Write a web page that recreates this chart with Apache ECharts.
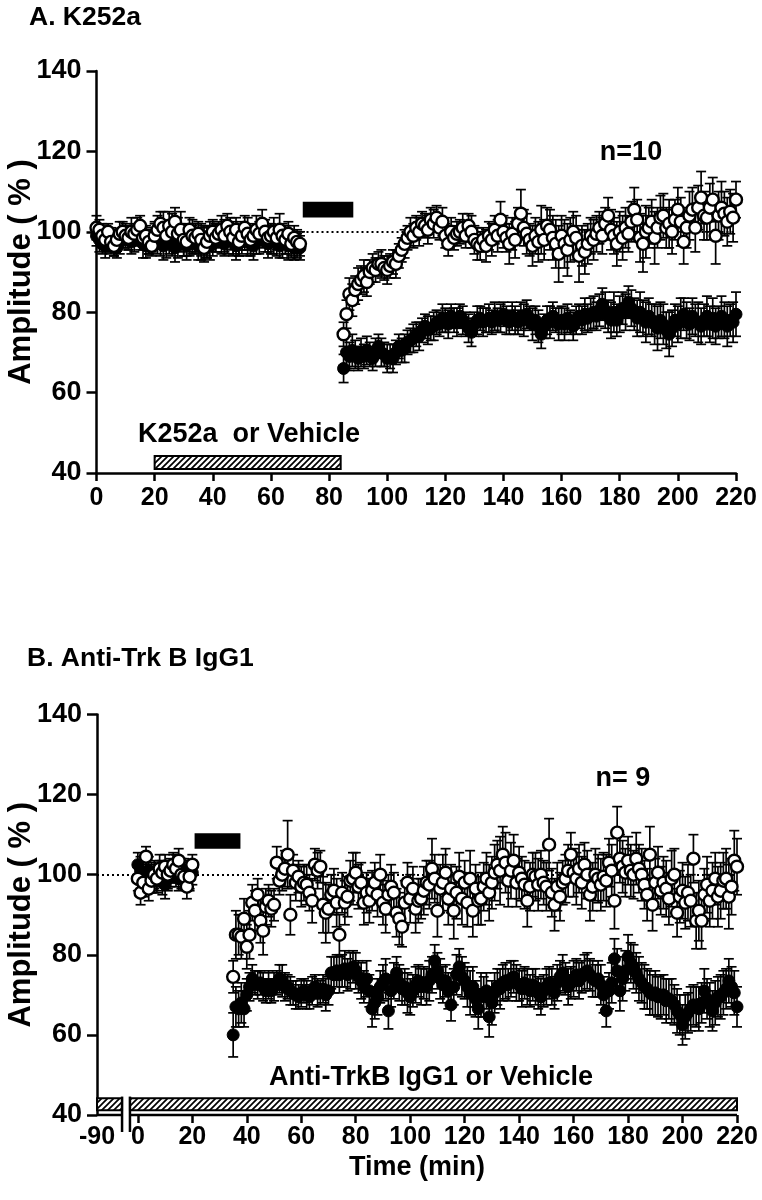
<!DOCTYPE html>
<html>
<head>
<meta charset="utf-8">
<script src="https://cdn.jsdelivr.net/npm/echarts@6/dist/echarts.min.js"></script>
<style>html,body{margin:0;padding:0;background:#fff}#c{width:762px;height:1200px}</style>
</head>
<body>
<div id="c"></div>
<script>
// ---------------- DATA ----------------
const X_TICKS = [0, 20, 40, 60, 80, 100, 120, 140, 160, 180, 200, 220];
const Y_TICKS = [40, 60, 80, 100, 120, 140];
const B_PRE_LABEL = '-90';          // label of the pre-break segment in panel B

// Panel A : K252a (filled) vs vehicle (open); 1 sample per minute
const A_BASE_START = 0;   // minutes 0..70
const A_POST_START = 85;  // minutes 85..220
const A_OPEN_BASE = [
101,100.5,99,98,100,97.5,96.5,98,99.5,100,
99,98.5,100,99.5,100.5,101.5,98.5,99,97.5,96.5,
99,100.5,102,101,99,101.5,100,102.5,99.5,100.5,
98,97.5,100.5,99,98.5,99.5,98,96,97.5,99,
100,98.5,99.5,100.5,99,101.5,100,98.5,100.5,97.5,
99,101,99.5,98,99,100.5,99.5,102,100,98.5,
99,100,98.5,100.5,99,98,99.5,97,98.5,97.5,
97];
const A_OPEN_BASE_ERR = [
3,2.5,3,2.5,2,3,2.5,2,3,2.5,
2,3,3.5,2.5,3,2.5,3,2.5,3,2.5,
3,3.5,3,4,3,3.5,4.5,3.5,4,4.5,
4,3.5,3,4,3.5,3,4,3.5,4,3.5,
3,3.5,3,3.5,4,3,3.5,4,3,3.5,
3.5,3,4,3.5,3,3.5,3,3.5,3,3.5,
3,3.5,3,4,3,3.5,3,3.5,3,3,
3];
const A_FILLED_BASE = [
99,98,97,96.5,97.5,98,97,96,97.5,98.5,
99,98,97.5,98,99,98.5,97,96.5,97,98,
99.5,98,97,96.5,97.5,98,97,96,97.5,98.5,
97,96.5,97,98,97.5,96.5,97,98,97.5,96.5,
97,98.5,99,98,97,98,98.5,97.5,96.5,97,
98,98.5,97.5,97,96.5,97.5,98,99,98,97,
97.5,98,97,96.5,97,97.5,96.5,97,96,96.5,
96];
const A_FILLED_BASE_ERR = [
2.5,3,2.5,3,2.5,3,3,2.5,3,2.5,
3,2.5,3,3,2.5,3,3.5,3,2.5,3,
3,3.5,3,3.5,4,3.5,3,3.5,4,3.5,
3,3.5,3,3.5,3,3.5,4,3.5,4,3.5,
3,3.5,3,3.5,3,3.5,3,3.5,3.5,3,
3.5,3,3.5,3,3.5,3,3.5,3,3,3.5,
3,3.5,3,3,3.5,3,3.5,3,3,3,
3];
const A_OPEN_POST = [
74.5,79.5,84.5,83,85.5,87,88,89,87.5,90,
91,90.5,92,92,91,90.5,91.5,92.5,92,94,
95.5,97,98.5,100,99,101,100,102,101.5,100.5,
103,102,103.5,101,102.5,99,97,100,98.5,99.5,
100,101,99,101.5,100,98,97,96.5,98,96.5,
99,98,100.5,99,103,100,98.5,97,99.5,98,
102,104.5,101,99.5,98,96.5,99,97.5,100.5,98,
101.5,100.5,98.5,97,94.5,99,97,95.5,98,100,
98.5,94,96.5,95,97,99,98,99.5,101,99,
102,104,100.5,99,97,100,98.5,101,99.5,102.5,
105.5,103,98.5,97,100,101,102.5,98.5,101,103.5,
104,101,102,100,103,105.5,102.5,97.5,101,104,
105.5,101,106,108.5,104,103.5,106,108,99,104,
106,104.5,102.5,105,103.5,108];
const A_OPEN_POST_ERR = [
3,3.5,4,4,3.5,4,3.5,4,3.5,3,
3.5,3,3,3.5,3,3.5,3,3,3.5,3,
3,3.5,3,3.5,3,3,3.5,3,3,3.5,
3,3.5,3,3,3.5,3,3,3.5,3,3,
3,3.5,3,3,4,3.5,4,3.5,3,4,
3.5,4,3.5,4,4.5,4,3.5,5,4,4.5,
4,6,4.5,5,4,5,4.5,5,6,5,
4.5,5,5.5,6,7,5,6,6.5,5.5,5,
5.5,6.5,5,5.5,5,4.5,5,4.5,4,4.5,
4,4.5,5,4.5,5.5,5,5.5,5,4.5,5,
5.5,5,6,7,6.5,5,5.5,6.5,5,5.5,
5.5,5,6,5.5,5,5.5,6,5.5,5,6,
5.5,6,5.5,6.5,6,5.5,6,5.5,7,6,
6.5,5.5,6,5.5,6,4.5];
const A_FILLED_POST = [
66,70,69,70.5,69.5,68.5,70,69,70.5,69.5,
68.5,70,71.5,70,69.5,68.5,69,68.5,70,71.5,
70.5,71,72.5,73,73.5,74.5,74,75.5,76.5,75.5,
76,76.5,77.5,77,78.5,78,77,79,78,77.5,
79,78,77,76,75,77,78,78.5,77.5,78,
78.5,77.5,79,78,78.5,79.5,78,77.5,79,78,
77.5,79,78,79.5,78.5,77,78,76.5,74.5,76.5,
78,77.5,79,78,77,78,77,78.5,77.5,76.5,
78,79,78,79.5,78.5,79.5,80,79,80.5,82,
80.5,79,78,80,78,79.5,81,80,82.5,81,
79.5,78.5,80,78.5,77.5,79,78,77,76,78,
77,75.5,74.5,76,78,77,78.5,79.5,78,77,
79,78,77.5,76.5,78,79,77,78.5,76.5,77.5,
79,78,76.5,78,77.5,79.5];
const A_FILLED_POST_ERR = [
3.5,4,3.5,4,3.5,3,3.5,3,3.5,3,
3,3.5,3,3.5,3,3.5,3,3.5,3,3,
3,3.5,3,3,3.5,3,3.5,3,3,3.5,
3,3.5,3,3,3.5,3,3.5,3,3,3.5,
3,3.5,3,3.5,3.5,3,3.5,3,3.5,3,
3.5,3,3.5,3,3.5,3,3.5,3,3.5,3.5,
3,3.5,4,3.5,3,4,3.5,4,3.5,3,
3.5,4,3.5,3,4,3.5,4,3.5,3,3.5,
3.5,3,3.5,4,3.5,4,4,3.5,4,4,
4.5,4,4.5,5,4,4.5,4,4.5,4,4.5,
4,4.5,5,4.5,5,4.5,4,5,5.5,4.5,
5,4.5,5.5,4.5,4,4.5,5,4,4.5,4,
4.5,4,5,4.5,4,5,4.5,5,4.5,4,
5,4.5,5,4,5,5.5];

// Panel B : anti-TrkB IgG1 (filled) vs vehicle (open)
const B_BASE_START = 0;   // minutes 0..20
const B_POST_START = 35;  // minutes 35..220
const B_OPEN_BASE = [99,95.5,98,104.5,96.5,98.5,100,99,101.5,100.5,102,100,101,102.5,101.5,103.5,100,99.5,97,99.5,102.5];
const B_OPEN_BASE_ERR = [3,3,3.5,2.5,3,3,3.5,3,3.5,3,3,3.5,3,3,3.5,3,3.5,3,3,3.5,2.5];
const B_FILLED_BASE = [102.5,101,100,99.5,101,100,98.5,99,100.5,98,97.5,99,100,101.5,100,99,100.5,101,99.5,100,100.5];
const B_FILLED_BASE_ERR = [3,3.5,3,3,3.5,3,3,3.5,3,3,3.5,3,3,3.5,3,3,3.5,3,3,3.5,3];
const B_OPEN_POST = [
74.5,85,85,84.5,89,82,85,93,91,95,
88.5,86,92,93.5,91.5,92.5,103,98.5,100,101.5,
105,90,101,98,99.5,97,98,97.5,95.5,93.5,
102.5,101,102,92.5,90.5,91.5,95,96,93,85,
95.5,93,94.5,98.5,99,100.5,97,98,93,95.5,
93.5,96,98,95,100,93,91.5,95,97,95.5,
90.5,89,87,93,98,94,96.5,91.5,93.5,94,
96,98,97.5,101.5,99,91,96.5,98,100.5,94,
96.5,91,95.5,99.5,94,98,93,99,91,96.5,
93.5,94,97,99,95.5,98,100.5,102.5,101,105,
103,98.5,101,103.5,98,100.5,99,97.5,93.5,97,
100,99.5,97.5,100,98,97,107.5,95.5,92.5,97,
94.5,98,99,101,105,100.5,99,101.5,98,102.5,
100,95,97,100,99,97.5,99.5,98.5,103,101,
93.5,110.5,104,102,100.5,103.5,101,100,104,101.5,
100,97.5,95,105,92.5,98,100.5,96,98,96.5,
94,99,100,90.5,94.5,96,93,95.5,93.5,104,
88.5,91,88.5,95,97.5,93.5,96,99,94.5,96,
98.5,99,94.5,97,103.5,102];
const B_OPEN_POST_ERR = [
4,6,5,5.5,5,5.5,6,4.5,5,4,
5.5,6,4.5,4,4.5,4,4,3.5,4,4.5,
8.5,5,4,4.5,4,5,4.5,5,4.5,5.5,
4,4.5,4,7,7.5,6,5,5.5,6,5,
5,5.5,5,5,6.5,5,5.5,5,5.5,5,
5.5,5,5,5.5,5,5.5,6,5,5.5,5,
6,6.5,5,5.5,5,6,5.5,6,5.5,5,
6,5.5,6,7.5,6,6.5,6,7,6,6.5,
6,7,6.5,6,6.5,5.5,6,7,6.5,6,
6,6.5,6,6.5,7,6.5,7,6,8.5,7,
7.5,6.5,7,6.5,6,6.5,5.5,6,6.5,6,
5.5,6,6.5,6,5.5,6,6.5,6,6.5,6,
6,5.5,6,6.5,5.5,6,6.5,6,6.5,5.5,
6,6.5,6,6.5,6,6.5,6,6.5,6,6.5,
7,6.5,6,6.5,6,6,6.5,6,6.5,6,
6.5,6,6.5,7,6.5,6,6.5,6,6.5,7,
6.5,7,6.5,6,6.5,7,6.5,7,6.5,6,
7,7.5,7,6.5,7,6.5,7,6.5,7.5,7,
7,7.5,8,7,7.5,7];
const B_FILLED_POST = [
60,67,66.5,68,66.5,70,72,74,73,72.5,
73,72,71,72.5,71,72,73,74,73.5,72,
72,71,70.5,70,69.5,70.5,71,70,69.5,71,
72,70.5,70.5,71.5,70,71,75.5,75,76,75,
76,76.5,75,76,77,76,74.5,73.5,72,74,
71,66.5,68,69.5,72,73,74,66,71,73.5,
75.5,73,71.5,72,70.5,69.5,71,72.5,73.5,72,
73,72,73.5,75,78.5,76,74,72.5,73.5,71,
67.5,72,75,77,74.5,73.5,72,70.5,72,69,
66.5,70,69.5,71,64.5,68,70.5,72,71.5,73,
73.5,72.5,74,74.5,73,72.5,71.5,73,72,71,
72.5,72,70.5,69.5,71,72,73,72,70.5,73,
74.5,75.5,74,72,73,74,75,73.5,74.5,75.5,
76,75,74,73.5,74,72.5,70,66,71,73,
79,76,71,74,76,79.5,78,77,75.5,74,
73,72,71.5,70.5,70,70.5,69.5,69.5,70,68.5,
69,68.5,67.5,66,65,62.5,64.5,65.5,66.5,67.5,
67,66.5,68,71,69,67.5,66,68,69.5,69.5,
70.5,71.5,73.5,72,70.5,67];
const B_FILLED_POST_ERR = [
5.5,5,4.5,5,4.5,4,3.5,3.5,3,3.5,
3,3.5,3,3.5,3,3.5,3,3.5,4,3.5,
3,3.5,3,3.5,3,3.5,3,3.5,3,3.5,
3,3.5,3,3.5,4,3.5,4,4.5,4,4.5,
4,4.5,4,4.5,4,4.5,4,4.5,4,4.5,
4,4.5,4,4.5,4,4.5,5,4.5,4,4.5,
4,4.5,4,4.5,5,4.5,4,4.5,4,4.5,
4,4.5,5,4.5,4,4.5,5,4.5,4,4.5,
4,4.5,5,4.5,5,4.5,5,5.5,5,4.5,
5,5.5,5,4.5,5,5.5,5,4.5,5,4.5,
4.5,4,4.5,4,4.5,4,4.5,4,4.5,4,
4,4.5,4,4.5,4,4.5,4,4.5,4,4.5,
4,4.5,4,4.5,4,4.5,4,4.5,4,4.5,
4.5,4,4.5,4,4.5,5,4.5,4,4.5,5,
5,5.5,5,5.5,5,5.5,5,5.5,5,5.5,
5,5.5,5,5.5,5,5.5,5,5.5,5,5.5,
5,5.5,5,5.5,5,5,5.5,5,5.5,5,
5,5.5,5,5.5,5,5.5,5,5.5,5,5.5,
5.5,5,5.5,5,5.5,5];

// Annotation extents (minutes, %)
const A_DRUG_BAR = [20, 84, 41, 44.2];       // hatched: K252a or vehicle
const A_TETANUS_BAR = [71.3, 88, 103.8, 107.2];
const B_DRUG_BARS = [[-15, -5.8, 41.2, 44.2], [-2.9, 220.5, 41.2, 44.2]];
const B_TETANUS_BAR = [21.2, 37.3, 106.7, 110.1];
const B_AXIS_SEGMENTS = [[-15, -5.8], [-2.9, 220]];
const BASELINE = 100;

// ---------------- RENDER ----------------
const FONT = '"Liberation Sans", Arial, Helvetica, sans-serif';
function pts(start, vals, errs) { return vals.map((v, i) => [start + i, v, errs[i]]); }

function hatchPattern() {
  const c = document.createElement('canvas');
  c.width = 6; c.height = 6;
  const g = c.getContext('2d');
  g.fillStyle = '#fff'; g.fillRect(0, 0, 6, 6);
  g.strokeStyle = '#000'; g.lineWidth = 1.7;
  g.beginPath();
  g.moveTo(-1, 7); g.lineTo(7, -1);
  g.moveTo(-1, 1); g.lineTo(1, -1);
  g.moveTo(5, 7); g.lineTo(7, 5);
  g.stroke();
  return c;
}
const HATCH = { image: hatchPattern(), repeat: 'repeat' };

function errRender(params, api) {
  const x = api.value(0), v = api.value(1), e = api.value(2);
  const t = api.coord([x, v + e]), b = api.coord([x, v - e]);
  const hw = 5, st = { stroke: '#000', lineWidth: 1.7 };
  return { type: 'group', children: [
    { type: 'line', shape: { x1: t[0], y1: t[1], x2: b[0], y2: b[1] }, style: st },
    { type: 'line', shape: { x1: t[0] - hw, y1: t[1], x2: t[0] + hw, y2: t[1] }, style: st },
    { type: 'line', shape: { x1: b[0] - hw, y1: b[1], x2: b[0] + hw, y2: b[1] }, style: st }
  ]};
}

function area(b, color) {
  return [{ xAxis: b[0], yAxis: b[2], itemStyle: { color: color, borderColor: '#000', borderWidth: 2, opacity: 1 } },
          { xAxis: b[1], yAxis: b[3] }];
}

function panelSeries(ax, openPts, filledPts, drugBars, tetBar) {
  return [
    { type: 'scatter', xAxisIndex: ax, yAxisIndex: ax, data: [], z: 1, silent: true,
      markLine: { silent: true, symbol: 'none', label: { show: false },
        lineStyle: { color: '#000', width: 2, type: [2, 3] }, data: [{ yAxis: BASELINE }] },
      markArea: { silent: true, label: { show: false },
        data: drugBars.map(b => area(b, HATCH)).concat([area(tetBar, '#000')]) } },
    { type: 'custom', xAxisIndex: ax, yAxisIndex: ax, data: filledPts, renderItem: errRender, z: 2, encode: { x: 0, y: 1 }, silent: true },
    { type: 'scatter', xAxisIndex: ax, yAxisIndex: ax, data: filledPts, z: 3, symbol: 'circle', symbolSize: 12,
      itemStyle: { color: '#000', borderColor: '#000', borderWidth: 1, opacity: 1 }, encode: { x: 0, y: 1 }, silent: true },
    { type: 'custom', xAxisIndex: ax, yAxisIndex: ax, data: openPts, renderItem: errRender, z: 4, encode: { x: 0, y: 1 }, silent: true },
    { type: 'scatter', xAxisIndex: ax, yAxisIndex: ax, data: openPts, z: 5, symbol: 'circle', symbolSize: 12,
      itemStyle: { color: '#fff', borderColor: '#000', borderWidth: 2.4, opacity: 1 }, encode: { x: 0, y: 1 }, silent: true }
  ];
}

const aOpen = pts(A_BASE_START, A_OPEN_BASE, A_OPEN_BASE_ERR).concat(pts(A_POST_START, A_OPEN_POST, A_OPEN_POST_ERR));
const aFilled = pts(A_BASE_START, A_FILLED_BASE, A_FILLED_BASE_ERR).concat(pts(A_POST_START, A_FILLED_POST, A_FILLED_POST_ERR));
const bOpen = pts(B_BASE_START, B_OPEN_BASE, B_OPEN_BASE_ERR).concat(pts(B_POST_START, B_OPEN_POST, B_OPEN_POST_ERR));
const bFilled = pts(B_BASE_START, B_FILLED_BASE, B_FILLED_BASE_ERR).concat(pts(B_POST_START, B_FILLED_POST, B_FILLED_POST_ERR));

const axisLineStyle = { color: '#000', width: 2.5 };
const yAxisCommon = {
  type: 'value', min: Y_TICKS[0], max: Y_TICKS[Y_TICKS.length - 1], interval: 20,
  axisLine: { show: true, onZero: false, lineStyle: axisLineStyle },
  axisTick: { show: true, length: 10, lineStyle: { color: '#000', width: 2.5 } },
  axisLabel: { color: '#000', fontSize: 27, fontWeight: 'bold', fontFamily: FONT, margin: 15 },
  splitLine: { show: false },
  name: 'Amplitude ( % )', nameLocation: 'middle', nameGap: 60, nameMoveOverlap: false,
  nameTextStyle: { color: '#000', fontSize: 31, fontWeight: 'bold', fontFamily: FONT }
};

const chart = echarts.init(document.getElementById('c'), null, { renderer: 'canvas', width: 762, height: 1200 });
chart.setOption({
  animation: false,
  backgroundColor: '#fff',
  grid: [
    { left: 96.5, top: 71, width: 639.5, height: 402, containLabel: false, outerBoundsMode: 'none' },
    { left: 97, top: 714.5, width: 640, height: 400.5, containLabel: false, outerBoundsMode: 'none' }
  ],
  xAxis: [
    { type: 'value', gridIndex: 0, min: 0, max: 220, interval: 20,
      axisLine: { show: true, onZero: false, lineStyle: axisLineStyle },
      axisTick: { show: true, length: 8, lineStyle: { color: '#000', width: 2.5 } },
      axisLabel: { color: '#000', fontSize: 25, fontWeight: 'bold', fontFamily: FONT, margin: 13 },
      splitLine: { show: false } },
    { type: 'value', gridIndex: 1, min: -15, max: 220,
      axisLine: { show: false, onZero: false },
      axisTick: { show: true, length: 8, customValues: X_TICKS, lineStyle: { color: '#000', width: 2.5 } },
      axisLabel: { color: '#000', fontSize: 25, fontWeight: 'bold', fontFamily: FONT, margin: 10,
        customValues: [-15].concat(X_TICKS), formatter: v => (v === -15 ? B_PRE_LABEL : String(v)) },
      splitLine: { show: false },
      name: 'Time (min)', nameLocation: 'middle', nameGap: 39, nameMoveOverlap: false,
      nameTextStyle: { color: '#000', fontSize: 27, fontWeight: 'bold', fontFamily: FONT } }
  ],
  yAxis: [
    Object.assign({ gridIndex: 0 }, yAxisCommon),
    Object.assign({ gridIndex: 1 }, yAxisCommon)
  ],
  series: panelSeries(0, aOpen, aFilled, [A_DRUG_BAR], A_TETANUS_BAR)
    .concat(panelSeries(1, bOpen, bFilled, B_DRUG_BARS, B_TETANUS_BAR))
    .concat([{
      type: 'custom', xAxisIndex: 1, yAxisIndex: 1, clip: false, silent: true, z: 6,
      data: B_AXIS_SEGMENTS.map(s => [s[0], s[1], Y_TICKS[0]]),
      encode: { x: [0, 1], y: 2 },
      renderItem: function (params, api) {
        const a = api.coord([api.value(0), api.value(2)]);
        const b = api.coord([api.value(1), api.value(2)]);
        const st = { stroke: '#000', lineWidth: 2.5 };
        const bx = params.dataIndex === 0 ? b[0] : a[0];
        const top = api.coord([0, 44.6])[1];
        return { type: 'group', children: [
          { type: 'line', shape: { x1: a[0], y1: a[1], x2: b[0], y2: b[1] }, style: st },
          { type: 'line', shape: { x1: bx, y1: top, x2: bx, y2: a[1] + 17 }, style: st }
        ]};
      }
    }]),
  graphic: [
    { type: 'text', left: 29, top: 4, style: { text: 'A. K252a', fill: '#000', fontSize: 26.5, fontWeight: 'bold', fontFamily: FONT } },
    { type: 'text', left: 27, top: 645, style: { text: 'B. Anti-Trk B IgG1', fill: '#000', fontSize: 26.5, fontWeight: 'bold', fontFamily: FONT } },
    { type: 'text', x: 631, y: 153, style: { text: 'n=10', fill: '#000', fontSize: 27, fontWeight: 'bold', fontFamily: FONT, align: 'center', verticalAlign: 'middle' } },
    { type: 'text', x: 623, y: 779, style: { text: 'n= 9', fill: '#000', fontSize: 27, fontWeight: 'bold', fontFamily: FONT, align: 'center', verticalAlign: 'middle' } },
    { type: 'text', x: 249, y: 435, style: { text: 'K252a  or Vehicle', fill: '#000', fontSize: 27, fontWeight: 'bold', fontFamily: FONT, align: 'center', verticalAlign: 'middle' } },
    { type: 'text', x: 431, y: 1078, style: { text: 'Anti-TrkB IgG1 or Vehicle', fill: '#000', fontSize: 27, fontWeight: 'bold', fontFamily: FONT, align: 'center', verticalAlign: 'middle' } }
  ]
});
</script>
</body>
</html>
